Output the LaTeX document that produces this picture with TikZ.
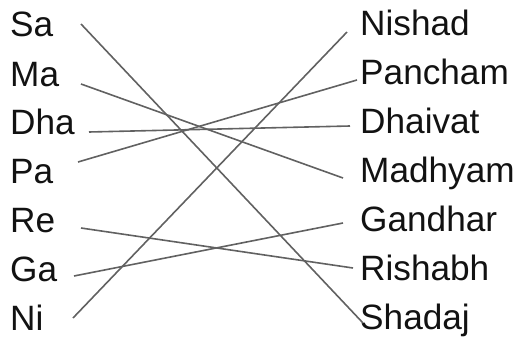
\documentclass[tikz,border=0pt]{standalone}
\usepackage{fontspec}
\setmainfont{Liberation Sans}
\usepackage{tikz}
\tikzset{>=stealth}
\tikzset{
  swara/.style={anchor=base west, inner sep=0pt, text=black!93,
    font=\fontsize{35.2}{40}\selectfont},
  link/.style={draw=black!62, line width=1.6pt},
}

\begin{document}
\begin{tikzpicture}[x=1pt,y=-1pt]
      \useasboundingbox (0,0) rectangle (523,340);
      % short names, left column
      \node[swara] (sa) at (10,36) {Sa};
      \node[swara] (ma) at (10,86) {Ma};
      \node[swara] (dha) at (10,134) {Dha};
      \node[swara] (pa) at (10,183) {Pa};
      \node[swara] (re) at (10,232) {Re};
      \node[swara] (ga) at (10,281) {Ga};
      \node[swara] (ni) at (10,330) {Ni};
      % full names, right column
      \node[swara] (nishad) at (360,35) {Nishad};
      \node[swara] (pancham) at (360,84) {Pancham};
      \node[swara] (dhaivat) at (360,133) {Dhaivat};
      \node[swara] (madhyam) at (360,182) {Madhyam};
      \node[swara] (gandhar) at (360,231) {Gandhar};
      \node[swara] (rishabh) at (360,280) {Rishabh};
      \node[swara] (shadaj) at (360,329) {Shadaj};
      % line ends
      \coordinate (sa-e) at (81,24);
      \coordinate (ma-e) at (81,84);
      \coordinate (dha-e) at (89,132);
      \coordinate (pa-e) at (78,162);
      \coordinate (re-e) at (81,228);
      \coordinate (ga-e) at (74,276);
      \coordinate (ni-e) at (73,318);
      \coordinate (nishad-e) at (347,32);
      \coordinate (pancham-e) at (357,80);
      \coordinate (dhaivat-e) at (350,126);
      \coordinate (madhyam-e) at (343,178);
      \coordinate (gandhar-e) at (343,223);
      \coordinate (rishabh-e) at (353,268);
      \coordinate (shadaj-e) at (363,323);
      \draw[link] (sa-e) -- (shadaj-e);
      \draw[link] (ma-e) -- (madhyam-e);
      \draw[link] (dha-e) -- (dhaivat-e);
      \draw[link] (pa-e) -- (pancham-e);
      \draw[link] (re-e) -- (rishabh-e);
      \draw[link] (ga-e) -- (gandhar-e);
      \draw[link] (ni-e) -- (nishad-e);
    \end{tikzpicture}
\end{document}
